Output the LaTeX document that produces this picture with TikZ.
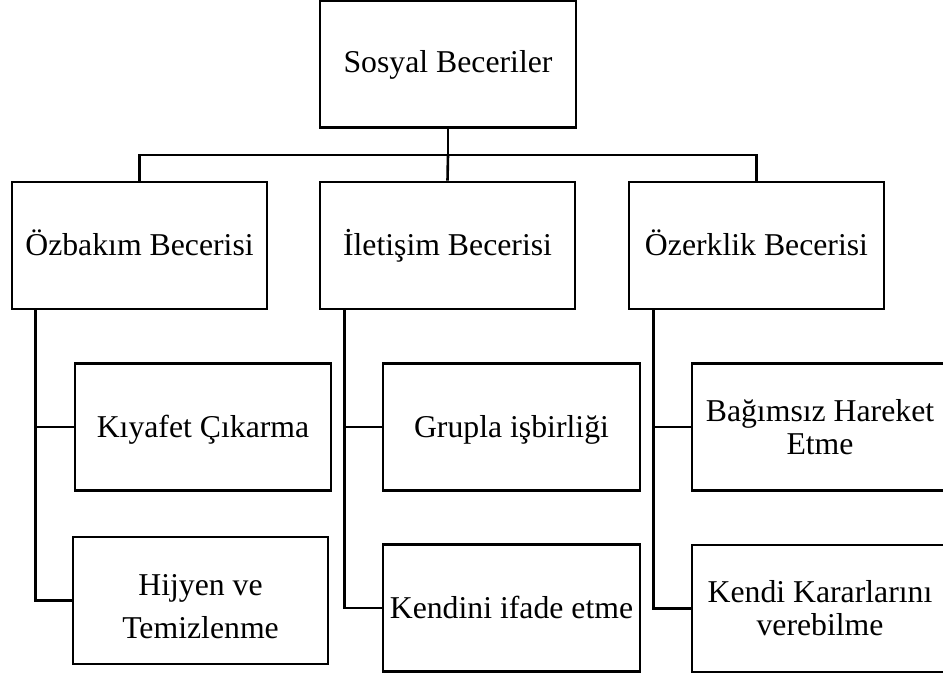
\documentclass[tikz,border=0pt]{standalone}
\usepackage{fontspec}
\setmainfont{Liberation Serif}
\begin{document}
\begin{tikzpicture}[x=1pt,y=-1pt,
  box/.style={draw=black,line width=2.6pt,inner sep=0pt,align=center,
    minimum width=#1,minimum height=127pt,
    font=\fontsize{31.75}{33}\selectfont},
  box/.default=256pt,
  one/.style={text height=26pt,text depth=6pt},
  txt/.style={inner sep=0pt,align=center,font=\fontsize{31.75}{43}\selectfont},
  conn/.style={draw=black,line width=2.6pt}]
\useasboundingbox (0,0) rectangle (943,677);
\fill[white] (0,0) rectangle (943,677);
% level 0
\node[box,text height=24pt,text depth=6pt] (top) at (448,64) {Sosyal Beceriler};
% level 1
\node[box=255pt,one] (oz) at (139.5,245.5) {Özbakım Becerisi};
\node[box=255pt,one] (il) at (447.5,245.5) {İletişim Becerisi};
\node[box=255pt,one] (ozr) at (756.5,245.5) {Özerklik Becerisi};
% level 2
\node[box,one] (kiy) at (203,427) {Kıyafet Çıkarma};
\node[box=255pt] (hij) at (200.5,600.5) {};
\node[txt] (hijt) at ([yshift=-6pt]hij.center) {Hijyen ve\\Temizlenme};
\node[box=257pt,one] (gru) at (511.5,427) {Grupla işbirliği};
\node[box=257pt,one] (ken) at (511.5,608) {Kendini ifade etme};
\node[box] (bag) at (820,427) {Bağımsız Hareket\\Etme};
\node[box] (kar) at (820,608.5) {Kendi Kararlarını\\verebilme};
% connectors
\coordinate (bar) at (448,155);
\draw[conn] (top.south) -- (bar);
\draw[conn] (oz.north) |- (bar) -| (ozr.north);
\draw[conn] (bar) -- (il.north);
\draw[conn] ([xshift=25pt]oz.south west) |- (kiy.west);
\draw[conn] ([xshift=25pt]oz.south west) |- (hij.west);
\draw[conn] ([xshift=26pt]il.south west) |- (gru.west);
\draw[conn] ([xshift=26pt]il.south west) |- (ken.west);
\draw[conn] ([xshift=26pt]ozr.south west) |- (bag.west);
\draw[conn] ([xshift=26pt]ozr.south west) |- (kar.west);
\end{tikzpicture}
\end{document}
